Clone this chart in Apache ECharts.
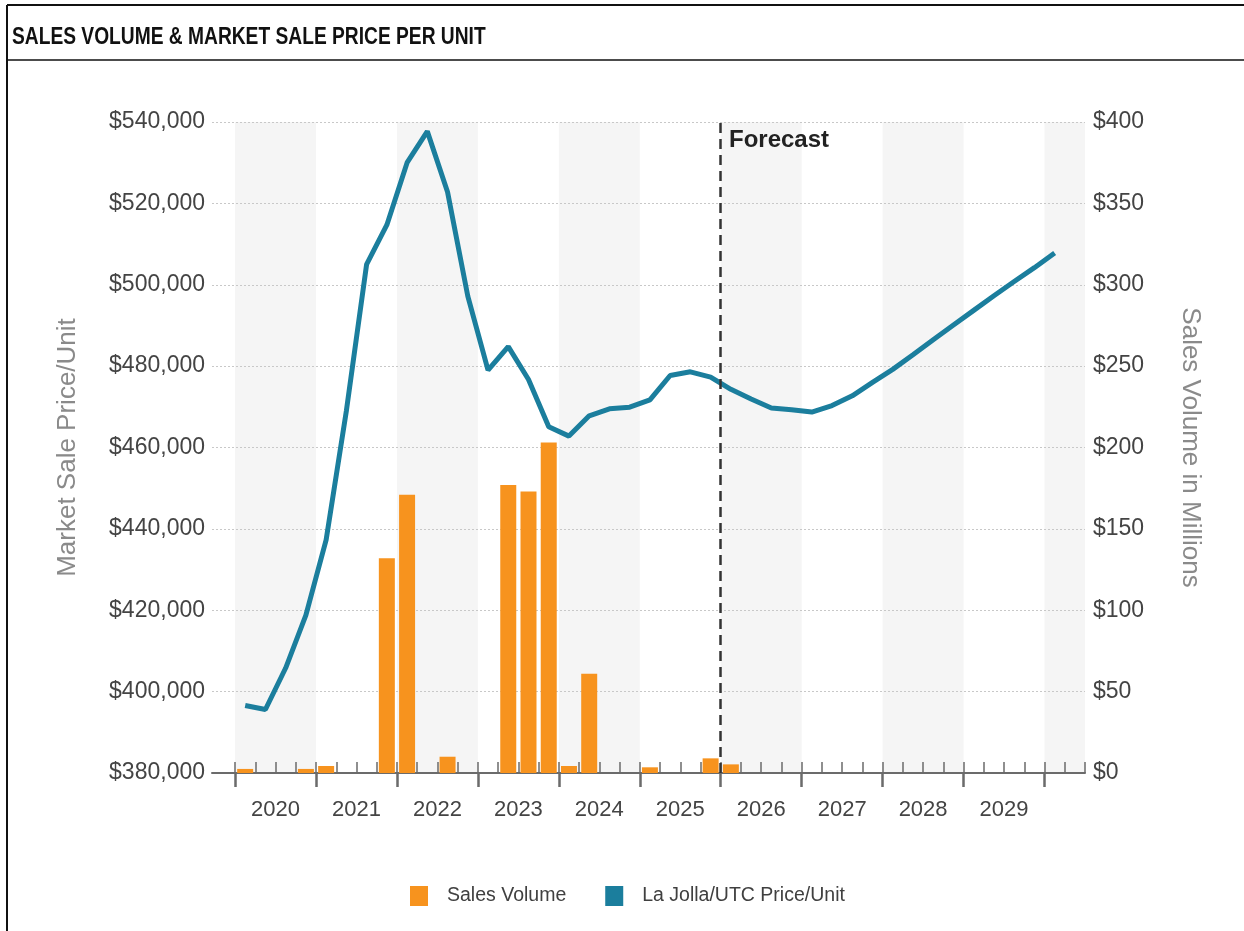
<!DOCTYPE html>
<html>
<head>
<meta charset="utf-8">
<script src="https://cdn.jsdelivr.net/npm/echarts@6/dist/echarts.min.js"></script>
<style>
html,body{margin:0;padding:0;background:#fff;}
#chart{width:1244px;height:931px;}
</style>
</head>
<body>
<div id="chart"></div>
<script>
// Quarterly data, 2020 Q1 .. 2030 Q1
var years = ['2020','2021','2022','2023','2024','2025','2026','2027','2028','2029'];
var priceValues = [
  396600, 395600, 405800, 418800,
  437300, 469000, 505000, 514700,
  530000, 537700, 522800, 497200,
  479000, 484800, 476700, 465100,
  462800, 467800, 469500, 469900,
  471700, 477700, 478600, 477300,
  474300, 471900, 469700, 469300,
  468700, 470300, 472700, 476000,
  479200, 482800, 486500, 490100,
  493700, 497300, 500800, 504200,
  507800
];
var volumeValues = [
  2.5, 0, 0, 2.5,
  4.3, 0, 0, 132,
  171, 0, 10, 0,
  0, 177, 173, 203,
  4.3, 61, 0, 0,
  3.5, 0, 0, 9,
  5.3
];
var forecastStart = 24; // quarter index where forecast begins (2026 Q1)
var totalQuarters = 42;

var pricePts = priceValues.map(function(v, i){ return [i + 0.5, v]; });
var volPts = volumeValues.map(function(v, i){ return [i + 0.5, v]; }).filter(function(p){ return p[1] > 0; });

var majorTicks = [], minorTicks = [], labelPos = [];
for (var q = 0; q <= totalQuarters; q++) {
  minorTicks.push(q);
  if (q % 4 === 0 && q <= 40) majorTicks.push(q);
}
for (var y = 0; y < years.length; y++) labelPos.push(y * 4 + 2);

var bands = [];
for (var b = 0; b < totalQuarters; b += 8) bands.push([{xAxis: b}, {xAxis: Math.min(b + 4, totalQuarters)}]);

var axisColor = '#6b6b6b';
var textColor = '#444';
var font = 'Liberation Sans, Arial, sans-serif';

var chart = echarts.init(document.getElementById('chart'));
chart.setOption({
  animation: false,
  backgroundColor: '#fff',
  textStyle: {fontFamily: font},
  grid: {left: 212, right: 159, top: 122, bottom: 158},
  xAxis: [
    {
      type: 'value', min: -1.14, max: totalQuarters,
      axisLine: {show: true, lineStyle: {color: axisColor, width: 2}},
      axisTick: {show: true, inside: false, length: 14, customValues: majorTicks, lineStyle: {color: axisColor, width: 2.5}},
      axisLabel: {show: true, customValues: labelPos, margin: 26, color: textColor, fontSize: 22, fontFamily: font,
        formatter: function(v){ return years[Math.round((v - 2) / 4)]; }},
      splitLine: {show: false}
    },
    {
      type: 'value', min: -1.14, max: totalQuarters, position: 'bottom',
      axisLine: {show: false},
      axisTick: {show: true, inside: true, length: 11, customValues: minorTicks, lineStyle: {color: axisColor, width: 1.5}},
      axisLabel: {show: false},
      splitLine: {show: false}
    }
  ],
  yAxis: [
    {
      type: 'value', min: 380000, max: 540000, interval: 20000,
      name: 'Market Sale Price/Unit', nameLocation: 'middle', nameRotate: 90, nameGap: 131,
      nameTextStyle: {color: '#8a8a8a', fontSize: 26, fontFamily: font},
      axisLine: {show: false}, axisTick: {show: false},
      axisLabel: {color: textColor, fontSize: 23, margin: 7, fontFamily: font,
        formatter: function(v){ return '$' + v.toLocaleString('en-US'); }},
      splitLine: {show: true, lineStyle: {color: '#c8c8c8', type: [2, 2], width: 1}}
    },
    {
      type: 'value', min: 0, max: 400, interval: 50, position: 'right',
      name: 'Sales Volume in Millions', nameLocation: 'middle', nameRotate: -90, nameGap: 92,
      nameTextStyle: {color: '#8a8a8a', fontSize: 26, fontFamily: font},
      axisLine: {show: false}, axisTick: {show: false},
      axisLabel: {color: textColor, fontSize: 23, margin: 8, fontFamily: font,
        formatter: function(v){ return '$' + v; }},
      splitLine: {show: false}
    }
  ],
  legend: {
    bottom: 20, left: 405, itemWidth: 18, itemHeight: 20, itemGap: 39,
    icon: 'rect',
    textStyle: {color: '#404040', fontSize: 19.5, fontFamily: font, padding: [0, 0, 0, 14]},
    data: ['Sales Volume', 'La Jolla/UTC Price/Unit']
  },
  series: [
    {
      name: 'bands', type: 'line', data: [], z: -1, silent: true,
      markArea: {silent: true, z: -1, itemStyle: {color: '#f5f5f5'}, data: bands}
    },
    {
      name: 'Sales Volume', type: 'bar', xAxisIndex: 0, yAxisIndex: 1,
      data: volPts, barWidth: 16,
      itemStyle: {color: '#f7931e'}
    },
    {
      name: 'La Jolla/UTC Price/Unit', type: 'line', xAxisIndex: 0, yAxisIndex: 0,
      data: pricePts, symbol: 'none', smooth: false,
      lineStyle: {color: '#1b7e9d', width: 5},
      itemStyle: {color: '#1b7e9d'},
      markLine: {
        silent: true, symbol: ['none', 'none'],
        label: {show: false},
        lineStyle: {color: '#333', width: 2.5, type: [10, 6]},
        data: [{xAxis: forecastStart}]
      }
    }
  ],
  graphic: [
    {type: 'line', z: 100, shape: {x1: 7, y1: 5, x2: 1244, y2: 5}, style: {stroke: '#111', lineWidth: 2}},
    {type: 'line', z: 100, shape: {x1: 7, y1: 5, x2: 7, y2: 931}, style: {stroke: '#111', lineWidth: 2}},
    {type: 'line', z: 100, shape: {x1: 7, y1: 60, x2: 1244, y2: 60}, style: {stroke: '#111', lineWidth: 1.5}},
    {type: 'text', z: 100, x: 12, y: 25, scaleX: 0.8, style: {text: 'SALES VOLUME & MARKET SALE PRICE PER UNIT', fill: '#111',
      font: 'bold 24px "Liberation Sans", Arial, sans-serif'}},
    {type: 'text', z: 100, x: 729, y: 128, style: {text: 'Forecast', fill: '#222',
      font: 'bold 24px "Liberation Sans", Arial, sans-serif'}}
  ]
});
</script>
</body>
</html>
